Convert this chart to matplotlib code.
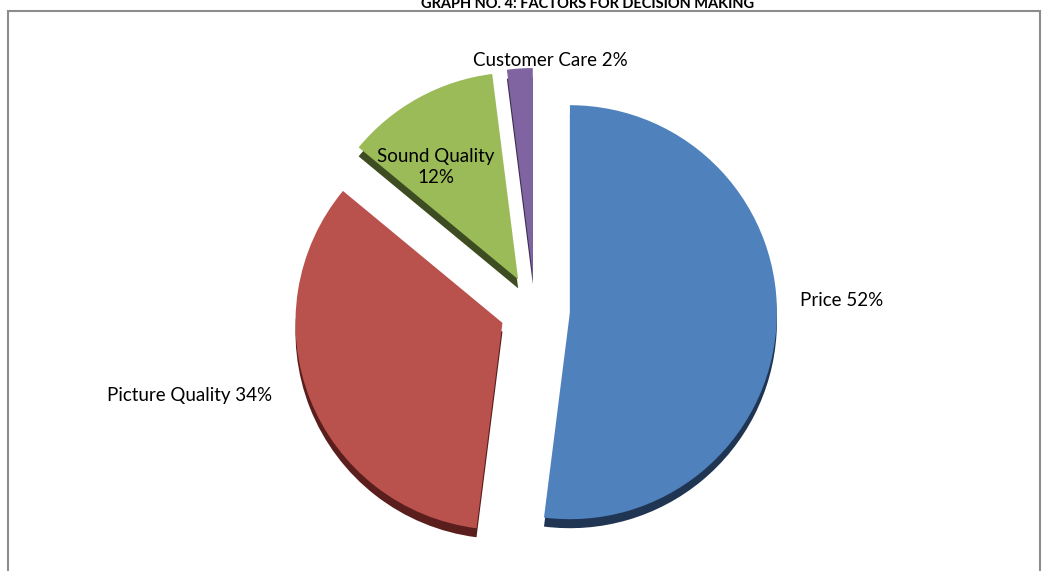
import matplotlib.pyplot as plt
from matplotlib.patches import Rectangle

# factors for decision making (% of respondents)
factors = ["Price", "Picture Quality", "Sound Quality", "Customer Care"]
shares = [52, 34, 12, 2]
face_colors = ["#4F81BD", "#B9514D", "#9BBB59", "#8064A2"]
side_colors = ["#1F3552", "#5A1E1C", "#3E4C22", "#3E2F52"]

W, H = 1048, 571
CX, CY = 535, H - 310
R = 207
DEPTH = 9
GAP = 35


def main():
    plt.rcParams['font.family'] = ['Lato', 'DejaVu Sans']
    fig = plt.figure(figsize=(W / 100, H / 100), dpi=100)
    ax = fig.add_axes([0, 0, 1, 1])

    explode = [GAP] * len(shares)

    # dark copy shifted down gives the slab edge of the 3D pie
    side, _ = ax.pie(shares, colors=side_colors, startangle=90,
                     counterclock=False, explode=explode,
                     center=(CX, CY - DEPTH), radius=R, frame=True)
    for w in side:
        w.set_zorder(1)

    top, _ = ax.pie(shares, colors=face_colors, startangle=90,
                    counterclock=False, explode=explode,
                    center=(CX, CY), radius=R, frame=True)
    for w in top:
        w.set_zorder(2)

    ax.set_xlim(0, W)
    ax.set_ylim(0, H)
    ax.set_aspect("auto")
    ax.axis("off")

    fs = 13.5
    ax.text(842, H - 300, f"{factors[0]} {shares[0]}%", fontsize=fs,
            ha="center", va="center", zorder=5)
    ax.text(190, H - 395, f"{factors[1]} {shares[1]}%", fontsize=fs,
            ha="center", va="center", zorder=5)
    ax.text(436, H - 167, f"{factors[2]}\n{shares[2]}%", fontsize=fs,
            ha="center", va="center", linespacing=1.25, zorder=5)
    ax.text(550, H - 60, f"{factors[3]} {shares[3]}%", fontsize=fs,
            ha="center", va="center", zorder=5)

    ax.text(588, H - 8, "GRAPH NO. 4: FACTORS FOR DECISION MAKING",
            fontsize=10.5, fontweight="bold", ha="center", va="baseline")

    ax.add_patch(Rectangle((8, -10), 1032, H - 11 + 10, fill=False,
                           edgecolor="#8C8C8C", lw=1.5, zorder=0))

    fig.savefig("out.png", dpi=100)


if __name__ == '__main__':
    main()
